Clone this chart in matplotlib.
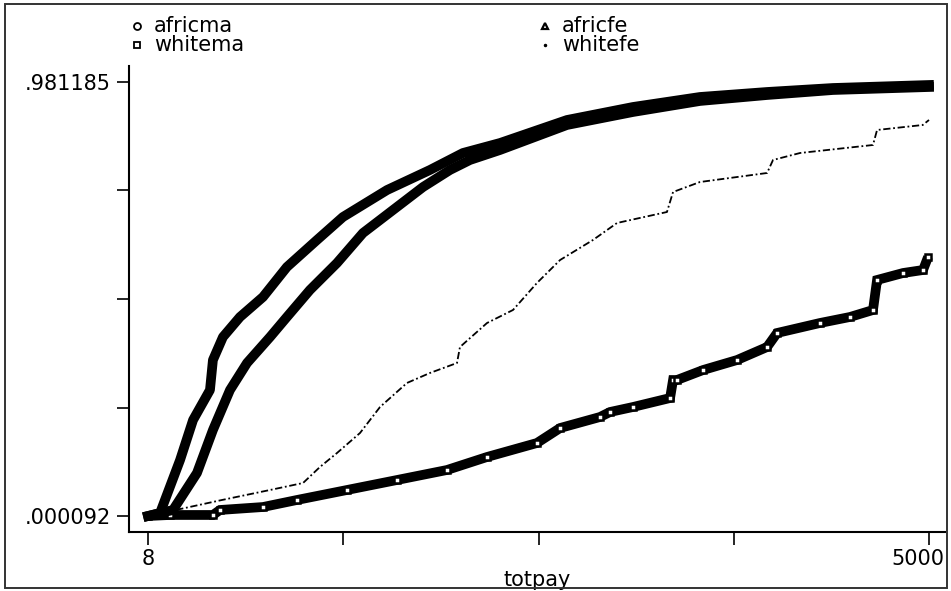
import numpy as np
import matplotlib
matplotlib.use('Agg')
import matplotlib.pyplot as plt
import matplotlib.transforms as mtransforms
from matplotlib.lines import Line2D
from matplotlib.patches import Rectangle

# cumulative distributions of totpay
africfe_x = [8, 85, 213, 296, 404, 423, 487, 596, 743, 896, 1088, 1254, 1536,
             1810, 2021, 2258, 2686, 3108, 3536, 3965, 4386, 5000]
africfe_y = [0.0001, 0.0069, 0.1267, 0.2171, 0.2849, 0.3527, 0.4047, 0.4500,
             0.4952, 0.5630, 0.6240, 0.6760, 0.7370, 0.7823, 0.8207, 0.8433,
             0.8953, 0.9247, 0.9473, 0.9586, 0.9676, 0.9744]

africma_x = [8, 168, 321, 423, 532, 641, 788, 896, 1043, 1216, 1382, 1574, 1766,
             1938, 2066, 2258, 2686, 3108, 3536, 3965, 4386, 5000]
africma_y = [0.0001, 0.0137, 0.0973, 0.1945, 0.2849, 0.3460, 0.4047, 0.4500,
             0.5110, 0.5720, 0.6398, 0.6918, 0.7438, 0.7823, 0.8049, 0.8275,
             0.8840, 0.9134, 0.9383, 0.9518, 0.9631, 0.9699]

whitefe_x = [8, 481, 788, 999, 1107, 1216, 1363, 1491, 1663, 1810, 1983, 2002,
             2175, 2341, 2494, 2642, 2852, 3006, 3325, 3364, 3536, 3965, 4003,
             4176, 4642, 4668, 4960, 5000]
whitefe_y = [0.0001, 0.0363, 0.0589, 0.0747, 0.1109, 0.1425, 0.1877, 0.2465,
             0.3008, 0.3234, 0.3460, 0.3821, 0.4364, 0.4658, 0.5268, 0.5788,
             0.6240, 0.6625, 0.6873, 0.7325, 0.7551, 0.7755, 0.8049, 0.8207,
             0.8388, 0.8727, 0.8840, 0.8953]

whitema_x = [8, 149, 423, 468, 743, 960, 1280, 1600, 1919, 2175, 2494, 2642,
             2897, 2961, 3108, 3345, 3364, 3389, 3556, 3773, 3965, 4029, 4303,
             4495, 4642, 4668, 4834, 4962, 4994]
whitema_y = [0.0001, 0.0024, 0.0024, 0.0137, 0.0204, 0.0363, 0.0589, 0.0815,
             0.1041, 0.1335, 0.1651, 0.1990, 0.2239, 0.2352, 0.2465, 0.2668,
             0.3075, 0.3075, 0.3301, 0.3527, 0.3821, 0.4138, 0.4364, 0.4500,
             0.4658, 0.5336, 0.5494, 0.5562, 0.5856]

x_ticks = [8, 1256, 2504, 3752, 5000]
x_labels = ['8', '', '', '', '5000']
y_ticks = [0.000092, 0.245365, 0.490638, 0.735912, 0.981185]
y_labels = ['.000092', '', '', '', '.981185']

plt.rcParams.update({'font.family': 'DejaVu Sans'})

W, H = 951, 591
FS = 15
fig = plt.figure(figsize=(W / 100, H / 100), dpi=100, facecolor='white')

# outer frame
fig.patches.append(Rectangle((5 / W, 1 - 588 / H), 942 / W, 584 / H,
                             transform=fig.transFigure, fill=False,
                             edgecolor='#333333', lw=1.4))

ax = fig.add_axes([129 / W, (H - 532) / H, (945 - 129) / W, (532 - 66) / H])
sx = 4992 / 781
sy = 0.981093 / 434
ax.set_xlim(8 - 19 * sx, 8 + (945 - 148) * sx)
ax.set_ylim(0.000092 - 16 * sy, 0.000092 + 450 * sy)

# whitema: thick band of squares
ax.plot(whitema_x, whitema_y, color='black', lw=7, solid_joinstyle='miter',
        solid_capstyle='butt', zorder=2)
ax.plot(whitema_x, whitema_y, ls='none', marker='s', ms=4.5, mfc='white',
        mec='black', mew=1.8, zorder=3)
# whitefe: thin dotted step line
ax.plot(whitefe_x, whitefe_y, color='black', lw=1.3, ls=(0, (4, 1.5, 1, 1.5)),
        zorder=2)
# africa curves: thick solid bands
ax.plot(africma_x, africma_y, color='black', lw=7, solid_joinstyle='round',
        zorder=4)
ax.plot(africfe_x, africfe_y, color='black', lw=7, solid_joinstyle='round',
        zorder=4)

ax.spines['top'].set_visible(False)
ax.spines['right'].set_visible(False)
ax.spines['left'].set_linewidth(1.5)
ax.spines['bottom'].set_linewidth(1.5)

ax.set_xticks(x_ticks)
ax.set_xticklabels(x_labels)
ax.set_yticks(y_ticks)
ax.set_yticklabels(y_labels)
ax.tick_params(axis='both', direction='out', length=9, width=1.2,
               labelsize=FS, colors='black')
ax.tick_params(axis='x', pad=3)
ax.tick_params(axis='y', pad=4)
# keep the last x label inside the frame
off = mtransforms.ScaledTranslation(-11 / 100, 0, fig.dpi_scale_trans)
lab = ax.get_xticklabels()[-1]
lab.set_transform(lab.get_transform() + off)

ax.set_xlabel('totpay', fontsize=FS, labelpad=1)

# legend drawn by hand
legend_items = [('africma', 'o', 137, 26), ('whitema', 's', 137, 45),
                ('africfe', '^', 545, 26), ('whitefe', '.', 545, 45)]
for name, mk, px, py in legend_items:
    if mk == '.':
        m = Line2D([px / W], [1 - py / H], marker='o', ms=1.5, mfc='black',
                   mec='black', ls='none', transform=fig.transFigure)
    elif mk == '^':
        m = Line2D([px / W], [1 - py / H], marker='^', ms=5, mfc='white',
                   mec='black', mew=1.6, ls='none', transform=fig.transFigure)
    else:
        m = Line2D([px / W], [1 - py / H], marker=mk, ms=5, mfc='white',
                   mec='black', mew=1.3, ls='none', transform=fig.transFigure)
    fig.add_artist(m)
    fig.text((px + 17) / W, 1 - py / H, name, fontsize=FS, ha='left',
             va='center')

fig.savefig('out.png', dpi=100, facecolor='white')
